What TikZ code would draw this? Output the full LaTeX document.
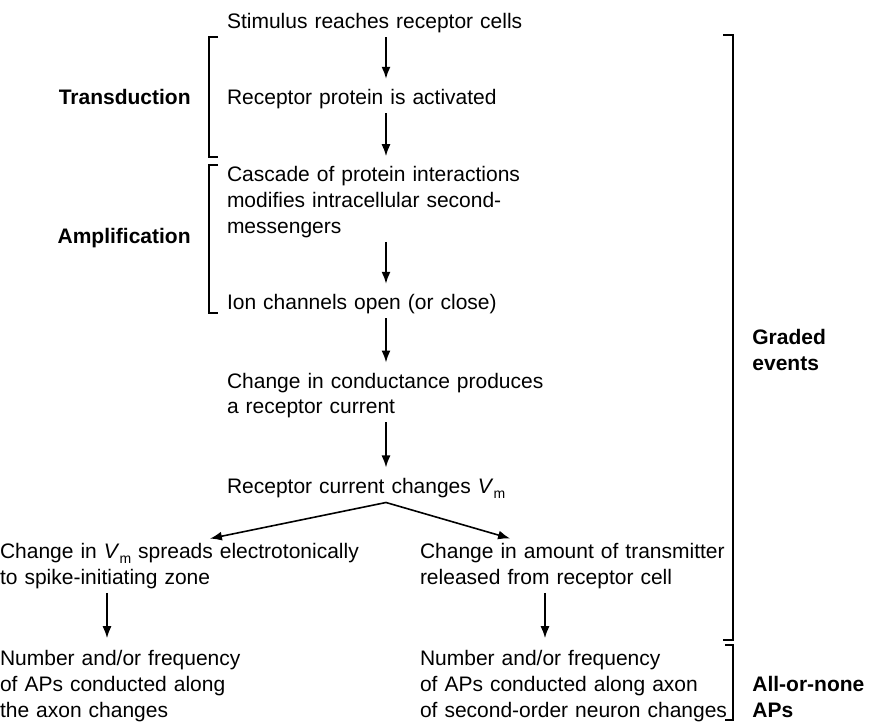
\documentclass[tikz,border=0pt]{standalone}
\usepackage{fontspec}
\setmainfont{Liberation Sans}
\usepackage{tikz}
\usetikzlibrary{arrows.meta}

\newcommand{\Vm}{\textit{V}\raisebox{-0.45ex}{\fontsize{7}{7}\selectfont m}}

\begin{document}
\begin{tikzpicture}[x=0.5pt, y=0.5pt, node distance={38pt},
        main/.style = {text width=170pt, align=left, inner sep=2pt, font=\fontsize{10.5}{12.8}\selectfont},
        phase/.style = {align=left, inner sep=2pt, font=\fontsize{10.5}{12.8}\selectfont\bfseries},
        flow/.style = {-{Latex[length=6pt,width=4.5pt]}, line width=0.8pt, shorten >=3pt},
        brk/.style = {line width=1pt}]
            \useasboundingbox (0,0) rectangle (873,724);

            \node[main] (S) at (397,701) {Stimulus reaches receptor cells};
            \node[main] (R) [below of=S] {Receptor protein is activated};
            \node[main] (C) [node distance=51.5pt, below of=R] {Cascade of protein interactions\\modifies intracellular second-\\messengers};
            \node[main] (I) [node distance=51pt, below of=C] {Ion channels open (or close)};
            \node[main] (G) [node distance=45.75pt, below of=I] {Change in conductance produces\\a receptor current};
            \node[main] (V) [node distance=46.25pt, below of=G] {Receptor current changes \Vm};

            \node[main, text width=190pt] (E) [node distance=39pt, below of=V, xshift=-103.5pt] {Change in \Vm{} spreads electrotonically\\to spike-initiating zone};
            \node[main, text width=160pt] (T) [node distance=39pt, below of=V, xshift=91.5pt] {Change in amount of transmitter\\released from receptor cell};
            \node[main, text width=190pt] (A) [node distance=60pt, below of=E] {Number and/or frequency\\of APs conducted along\\the axon changes};
            \node[main, text width=160pt] (B) [node distance=60pt, below of=T] {Number and/or frequency\\of APs conducted along axon\\of second-order neuron changes};

            \coordinate (ax) at (386,0);
            \coordinate (bl) at (208,0);
            \coordinate (br) at (512,0);
            \coordinate (axL) at (107,0);
            \coordinate (axR) at (545,0);

            \draw[flow] (S.south -| ax) -- (R.north -| ax);
            \draw[flow] (R.south -| ax) -- (C.north -| ax);
            \draw[flow] (C.south -| ax) -- (I.north -| ax);
            \draw[flow] (I.south -| ax) -- (G.north -| ax);
            \draw[flow] (G.south -| ax) -- (V.north -| ax);
            \draw[flow, shorten >=1pt] (V.south -| ax) -- (E.north -| bl);
            \draw[flow, shorten >=1pt] (V.south -| ax) -- (T.north -| br);
            \draw[flow, shorten >=4pt] (E.south -| axL) -- (A.north -| axL);
            \draw[flow, shorten >=4pt] (T.south -| axR) -- (B.north -| axR);

            % brackets
            \draw[brk] (218,687) -| (209,567) -- (218,567);
            \draw[brk] (218,559) -| (209,411) -- (218,411);
            \draw[brk] (723,689) -| (733,84) -- (723,84);
            \draw[brk] (725,79) -| (733,4) -- (725,4);

            \node[phase, anchor=east] (TD) at (195,627) {Transduction};
            \node[phase, anchor=east] (AM) at (195,486) {Amplification};
            \node[phase, anchor=west] (GE) at (748,374) {Graded\\events};
            \node[phase, anchor=west] (AN) at (748,27) {All-or-none\\APs};
        \end{tikzpicture}
\end{document}
